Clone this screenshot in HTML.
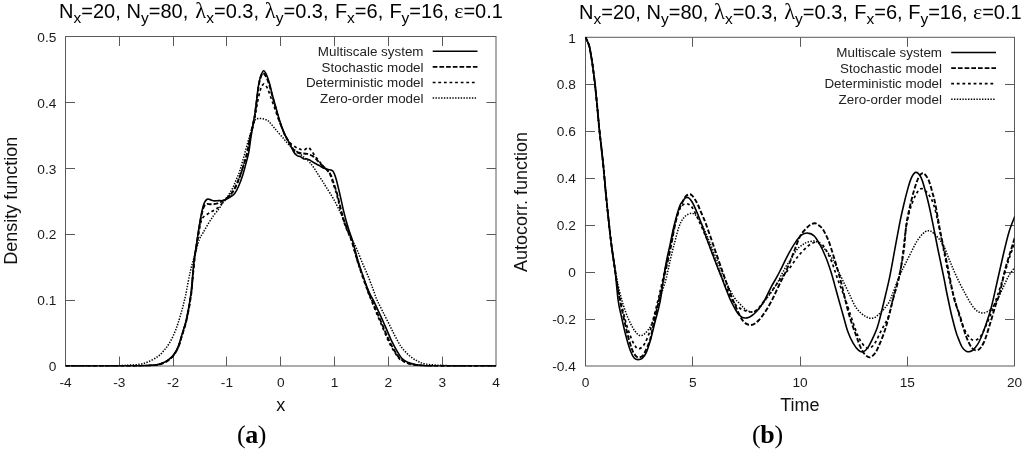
<!DOCTYPE html>
<html><head><meta charset="utf-8"><title>Density and autocorrelation</title><style>
html,body{margin:0;padding:0;background:#fff;}
body{width:1024px;height:450px;overflow:hidden;}
svg{display:block;will-change:transform;}
text{font-family:"Liberation Sans",sans-serif;fill:#000;}
.tk{font-size:13.7px;fill:#1a1a1a;}
.lg{font-size:13.4px;fill:#222;}
.lab{font-size:18px;fill:#111;}
.ttl{font-size:20px;fill:#000;}
.gr{font-family:"Liberation Serif",serif;}
.cap{font-family:"Liberation Serif",serif;font-size:26px;letter-spacing:-0.4px;}
</style></head>
<body>
<svg width="1024" height="450" viewBox="0 0 1024 450">
<rect x="65.5" y="36.5" width="430.50" height="329.50" fill="none" stroke="#5a5a5a" stroke-width="1"/>
<text x="65.50" y="387.0" text-anchor="middle" class="tk">-4</text>
<path d="M119.50,366.0 v-9.5 M119.50,36.5 v9.5" stroke="#5a5a5a" stroke-width="1"/>
<text x="119.31" y="387.0" text-anchor="middle" class="tk">-3</text>
<path d="M173.50,366.0 v-9.5 M173.50,36.5 v9.5" stroke="#5a5a5a" stroke-width="1"/>
<text x="173.12" y="387.0" text-anchor="middle" class="tk">-2</text>
<path d="M226.50,366.0 v-9.5 M226.50,36.5 v9.5" stroke="#5a5a5a" stroke-width="1"/>
<text x="226.94" y="387.0" text-anchor="middle" class="tk">-1</text>
<path d="M280.50,366.0 v-9.5 M280.50,36.5 v9.5" stroke="#5a5a5a" stroke-width="1"/>
<text x="280.75" y="387.0" text-anchor="middle" class="tk">0</text>
<path d="M334.50,366.0 v-9.5 M334.50,36.5 v9.5" stroke="#5a5a5a" stroke-width="1"/>
<text x="334.56" y="387.0" text-anchor="middle" class="tk">1</text>
<path d="M388.50,366.0 v-9.5 M388.50,36.5 v9.5" stroke="#5a5a5a" stroke-width="1"/>
<text x="388.38" y="387.0" text-anchor="middle" class="tk">2</text>
<path d="M442.50,366.0 v-9.5 M442.50,36.5 v9.5" stroke="#5a5a5a" stroke-width="1"/>
<text x="442.19" y="387.0" text-anchor="middle" class="tk">3</text>
<text x="496.00" y="387.0" text-anchor="middle" class="tk">4</text>
<text x="56.3" y="371.20" text-anchor="end" class="tk">0</text>
<path d="M65.5,300.50 h9.5 M496.0,300.50 h-9.5" stroke="#5a5a5a" stroke-width="1"/>
<text x="56.3" y="305.30" text-anchor="end" class="tk">0.1</text>
<path d="M65.5,234.50 h9.5 M496.0,234.50 h-9.5" stroke="#5a5a5a" stroke-width="1"/>
<text x="56.3" y="239.40" text-anchor="end" class="tk">0.2</text>
<path d="M65.5,168.50 h9.5 M496.0,168.50 h-9.5" stroke="#5a5a5a" stroke-width="1"/>
<text x="56.3" y="173.50" text-anchor="end" class="tk">0.3</text>
<path d="M65.5,102.50 h9.5 M496.0,102.50 h-9.5" stroke="#5a5a5a" stroke-width="1"/>
<text x="56.3" y="107.60" text-anchor="end" class="tk">0.4</text>
<text x="56.3" y="41.70" text-anchor="end" class="tk">0.5</text>
<rect x="585.5" y="37.3" width="429.00" height="328.70" fill="none" stroke="#5a5a5a" stroke-width="1"/>
<text x="585.50" y="387.0" text-anchor="middle" class="tk">0</text>
<path d="M692.50,366.0 v-9.5 M692.50,37.3 v9.5" stroke="#5a5a5a" stroke-width="1"/>
<text x="692.75" y="387.0" text-anchor="middle" class="tk">5</text>
<path d="M800.50,366.0 v-9.5 M800.50,37.3 v9.5" stroke="#5a5a5a" stroke-width="1"/>
<text x="800.00" y="387.0" text-anchor="middle" class="tk">10</text>
<path d="M907.50,366.0 v-9.5 M907.50,37.3 v9.5" stroke="#5a5a5a" stroke-width="1"/>
<text x="907.25" y="387.0" text-anchor="middle" class="tk">15</text>
<text x="1014.50" y="387.0" text-anchor="middle" class="tk">20</text>
<text x="575.8" y="371.20" text-anchor="end" class="tk">-0.4</text>
<path d="M585.5,319.50 h9.5 M1014.5,319.50 h-9.5" stroke="#5a5a5a" stroke-width="1"/>
<text x="575.8" y="324.24" text-anchor="end" class="tk">-0.2</text>
<path d="M585.5,272.50 h9.5 M1014.5,272.50 h-9.5" stroke="#5a5a5a" stroke-width="1"/>
<text x="575.8" y="277.29" text-anchor="end" class="tk">0</text>
<path d="M585.5,225.50 h9.5 M1014.5,225.50 h-9.5" stroke="#5a5a5a" stroke-width="1"/>
<text x="575.8" y="230.33" text-anchor="end" class="tk">0.2</text>
<path d="M585.5,178.50 h9.5 M1014.5,178.50 h-9.5" stroke="#5a5a5a" stroke-width="1"/>
<text x="575.8" y="183.37" text-anchor="end" class="tk">0.4</text>
<path d="M585.5,131.50 h9.5 M1014.5,131.50 h-9.5" stroke="#5a5a5a" stroke-width="1"/>
<text x="575.8" y="136.41" text-anchor="end" class="tk">0.6</text>
<path d="M585.5,84.50 h9.5 M1014.5,84.50 h-9.5" stroke="#5a5a5a" stroke-width="1"/>
<text x="575.8" y="89.46" text-anchor="end" class="tk">0.8</text>
<text x="575.8" y="42.50" text-anchor="end" class="tk">1</text>
<defs><clipPath id="c1"><rect x="65.5" y="31.5" width="430.5" height="335.1"/></clipPath><clipPath id="c2"><rect x="585.5" y="32.3" width="429.0" height="336.7"/></clipPath></defs>
<path d="M65.5,366.0 C72.1,366.0 95.9,366.0 105.0,365.9 C114.1,365.8 115.8,365.7 120.0,365.6 C124.2,365.5 126.7,365.3 130.0,365.1 C133.3,364.9 136.8,364.8 140.0,364.2 C143.2,363.6 145.9,362.8 148.9,361.5 C151.9,360.2 155.3,358.5 157.8,356.6 C160.3,354.8 162.1,352.6 164.0,350.4 C165.9,348.2 167.6,346.1 169.3,343.3 C171.0,340.5 172.8,336.9 174.2,333.6 C175.6,330.3 176.6,327.7 177.9,323.7 C179.2,319.7 180.8,314.2 182.1,309.5 C183.4,304.8 184.2,301.6 185.6,295.3 C186.9,289.1 188.6,279.0 190.2,272.0 C191.8,265.0 193.7,258.8 195.2,253.3 C196.7,247.9 198.1,242.8 199.4,239.3 C200.8,235.8 201.8,235.0 203.3,232.3 C204.9,229.6 206.9,225.9 208.7,223.0 C210.5,220.1 212.2,217.4 214.0,215.0 C215.8,212.6 217.9,210.3 219.3,208.3 C220.8,206.3 221.5,204.7 222.7,203.0 C223.9,201.3 225.8,199.2 226.7,198.0 C227.6,196.8 227.3,197.3 228.3,195.6 C229.3,193.9 231.5,190.4 232.8,187.8 C234.1,185.2 235.0,182.6 236.1,180.0 C237.2,177.4 238.5,174.8 239.4,172.2 C240.3,169.6 240.9,167.0 241.7,164.4 C242.4,161.8 243.2,159.3 243.9,156.7 C244.6,154.1 245.2,151.8 246.0,149.0 C246.8,146.2 247.6,142.9 248.5,140.0 C249.4,137.1 250.2,134.6 251.3,131.3 C252.4,128.1 253.8,122.6 254.9,120.5 C256.0,118.4 256.6,118.9 258.0,118.6 C259.4,118.3 261.4,118.5 263.0,118.8 C264.6,119.1 266.2,119.7 267.5,120.4 C268.8,121.2 269.4,122.1 270.5,123.3 C271.6,124.5 272.9,126.2 274.0,127.5 C275.1,128.8 275.6,129.4 277.2,131.3 C278.8,133.2 281.7,136.5 283.9,139.0 C286.1,141.5 288.0,144.1 290.6,146.5 C293.2,148.9 296.4,151.1 299.4,153.5 C302.3,155.9 306.0,158.8 308.3,161.0 C310.6,163.2 311.5,164.5 313.0,166.5 C314.5,168.5 315.8,170.8 317.2,173.0 C318.6,175.2 320.2,177.7 321.7,180.0 C323.2,182.3 324.0,183.6 326.1,187.0 C328.2,190.4 331.7,195.6 334.2,200.2 C336.7,204.8 339.2,210.0 341.3,214.4 C343.4,218.8 345.0,223.0 346.6,226.8 C348.2,230.7 349.5,233.9 351.1,237.5 C352.7,241.1 354.6,244.1 356.4,248.2 C358.2,252.3 360.1,257.4 362.0,262.0 C363.9,266.6 366.2,271.5 368.0,276.0 C369.8,280.5 371.5,285.0 373.0,289.0 C374.5,293.0 375.4,296.4 377.0,300.0 C378.6,303.6 380.4,307.0 382.4,310.9 C384.3,314.8 386.6,319.1 388.7,323.3 C390.8,327.5 392.8,331.9 394.9,335.8 C397.0,339.7 398.8,343.5 401.1,346.7 C403.4,349.9 406.3,352.9 408.9,355.2 C411.5,357.5 414.1,359.3 416.7,360.7 C419.3,362.1 421.3,363.1 424.4,363.8 C427.5,364.5 431.0,364.7 435.3,365.0 C439.6,365.3 444.2,365.5 450.0,365.7 C455.8,365.9 462.3,365.9 470.0,366.0 C477.7,366.1 491.7,366.0 496.0,366.0" fill="none" stroke="#000" stroke-width="1.5" stroke-dasharray="1.4 1.4" clip-path="url(#c1)"/>
<path d="M65.5,366.0 C74.6,366.0 107.6,366.0 120.0,366.0 C132.4,366.0 135.0,365.9 140.0,365.8 C145.0,365.7 147.0,365.6 150.0,365.4 C153.0,365.2 155.3,365.2 157.8,364.7 C160.3,364.2 162.8,363.2 164.9,362.2 C167.0,361.2 168.6,359.9 170.2,358.6 C171.8,357.3 172.8,356.3 174.2,354.3 C175.6,352.3 177.2,349.7 178.4,346.8 C179.6,343.9 180.6,339.9 181.5,337.0 C182.4,334.1 183.1,331.8 183.9,329.2 C184.7,326.6 185.5,324.0 186.2,321.4 C186.8,318.8 187.3,316.2 187.8,313.6 C188.3,311.0 188.9,308.4 189.3,305.8 C189.8,303.2 190.1,300.6 190.5,298.0 C190.9,295.4 191.0,296.3 191.6,290.3 C192.2,284.3 193.4,269.1 194.2,262.0 C195.0,254.9 195.6,252.2 196.3,248.0 C197.0,243.8 197.7,240.1 198.2,237.0 C198.7,233.9 198.7,232.7 199.3,229.7 C199.9,226.7 200.7,221.6 202.0,219.0 C203.3,216.4 205.5,215.6 207.3,214.3 C209.1,213.0 210.9,212.1 212.7,211.0 C214.5,209.9 216.4,208.9 218.0,207.7 C219.6,206.4 220.7,204.9 222.0,203.5 C223.3,202.1 224.7,200.3 226.0,199.0 C227.3,197.7 228.6,196.8 229.8,195.5 C231.0,194.2 232.2,192.9 233.4,191.0 C234.6,189.1 235.8,186.6 237.0,183.8 C238.2,181.0 239.6,177.7 240.8,174.2 C242.0,170.7 243.2,166.6 244.3,163.0 C245.4,159.4 246.3,157.1 247.3,152.8 C248.3,148.6 249.2,142.6 250.3,137.5 C251.4,132.4 253.1,126.4 254.0,122.0 C254.9,117.6 255.3,114.7 256.0,111.0 C256.7,107.3 257.3,103.5 258.0,100.0 C258.7,96.5 259.6,92.4 260.3,90.0 C261.0,87.6 261.6,86.5 262.3,85.5 C263.0,84.5 263.4,83.5 264.3,84.0 C265.2,84.5 266.7,86.7 267.7,88.7 C268.7,90.7 269.3,93.2 270.3,96.0 C271.3,98.8 272.6,102.1 273.7,105.3 C274.8,108.5 275.9,111.9 277.0,115.0 C278.1,118.1 279.2,120.8 280.5,124.0 C281.8,127.2 283.1,131.0 284.5,134.0 C285.9,137.0 287.2,139.9 289.0,142.0 C290.8,144.1 293.3,145.5 295.0,146.7 C296.7,147.8 297.9,148.3 299.4,148.9 C300.9,149.5 302.4,150.2 303.9,150.0 C305.4,149.8 307.0,147.4 308.3,147.6 C309.6,147.8 310.6,149.7 311.7,151.1 C312.8,152.5 313.9,154.6 315.0,156.1 C316.1,157.6 317.2,158.6 318.3,160.0 C319.4,161.4 320.6,163.1 321.7,164.4 C322.8,165.7 323.9,166.8 325.0,168.0 C326.1,169.2 327.1,170.0 328.0,171.3 C328.9,172.6 329.9,174.1 330.7,176.0 C331.5,177.9 332.0,180.1 333.0,183.0 C334.0,185.9 335.5,190.0 336.5,193.6 C337.5,197.2 338.2,200.7 339.1,204.3 C340.0,207.9 340.9,211.7 341.8,215.0 C342.7,218.3 343.6,221.1 344.6,224.0 C345.6,226.9 346.8,229.5 348.0,232.5 C349.2,235.5 350.5,237.3 352.0,242.0 C353.5,246.7 355.6,255.1 357.2,260.5 C358.8,265.9 360.0,269.3 361.8,274.5 C363.6,279.7 366.1,286.9 367.8,291.5 C369.5,296.1 370.6,298.4 372.0,302.0 C373.4,305.6 374.7,308.6 376.4,312.8 C378.1,317.0 380.4,322.3 382.4,327.0 C384.4,331.7 386.4,336.8 388.4,341.0 C390.4,345.2 392.6,349.0 394.5,352.0 C396.4,355.0 397.6,357.0 399.5,358.8 C401.4,360.6 403.6,361.6 406.0,362.6 C408.4,363.6 411.2,364.2 414.0,364.7 C416.8,365.2 419.4,365.4 422.9,365.6 C426.4,365.8 422.8,365.9 435.0,366.0 C447.2,366.1 485.8,366.0 496.0,366.0" fill="none" stroke="#000" stroke-width="1.7" stroke-dasharray="2.8 2.8" clip-path="url(#c1)"/>
<path d="M65.5,366.0 C74.6,366.0 107.6,366.0 120.0,366.0 C132.4,366.0 135.0,366.0 140.0,365.9 C145.0,365.8 147.0,365.7 150.0,365.5 C153.0,365.3 155.3,365.3 157.8,364.8 C160.3,364.3 162.8,363.4 164.9,362.4 C167.0,361.4 168.6,360.1 170.2,358.8 C171.8,357.5 172.8,356.5 174.2,354.5 C175.6,352.5 177.2,349.9 178.4,347.0 C179.6,344.1 180.6,340.1 181.5,337.2 C182.4,334.3 183.1,332.0 183.9,329.4 C184.7,326.8 185.5,324.2 186.2,321.6 C186.8,319.0 187.3,316.4 187.8,313.8 C188.3,311.2 188.9,308.6 189.3,306.0 C189.8,303.4 190.1,300.9 190.5,298.3 C190.9,295.7 191.0,296.6 191.6,290.5 C192.2,284.4 193.4,268.8 194.2,261.5 C195.0,254.2 195.6,251.1 196.3,246.5 C197.0,241.9 197.6,237.9 198.2,234.0 C198.8,230.1 199.4,226.5 200.0,223.0 C200.6,219.5 201.3,215.8 202.0,213.0 C202.7,210.2 203.2,208.0 204.0,206.5 C204.8,205.0 205.3,204.4 206.5,204.0 C207.7,203.6 209.6,204.4 211.3,204.3 C213.0,204.2 214.9,204.2 216.7,203.7 C218.5,203.2 220.4,202.3 222.0,201.5 C223.6,200.7 224.7,199.6 226.0,198.6 C227.3,197.6 228.6,196.6 229.8,195.3 C231.0,194.0 232.2,192.8 233.4,190.8 C234.6,188.8 235.8,186.3 237.0,183.5 C238.2,180.7 239.6,177.3 240.8,173.8 C242.0,170.3 243.2,166.1 244.3,162.5 C245.4,158.9 246.3,156.4 247.3,152.0 C248.3,147.6 249.2,141.4 250.3,136.0 C251.4,130.6 253.2,123.2 254.0,119.5 C254.8,115.8 254.6,117.1 255.0,114.0 C255.4,110.9 256.1,105.3 256.7,101.0 C257.2,96.7 257.7,91.8 258.3,88.0 C258.9,84.2 259.6,81.0 260.3,78.5 C261.1,76.0 261.9,73.3 262.8,73.0 C263.8,72.7 265.0,74.7 266.0,76.5 C267.0,78.3 268.0,81.0 269.0,84.0 C270.0,87.0 270.9,90.9 272.0,94.7 C273.1,98.5 274.1,102.4 275.3,106.7 C276.5,111.0 277.9,116.3 279.3,120.7 C280.8,125.1 282.7,129.9 284.0,133.0 C285.3,136.1 286.1,137.0 287.2,139.0 C288.3,141.0 289.5,143.1 290.6,145.0 C291.7,146.9 292.9,149.2 294.0,150.5 C295.1,151.8 296.2,152.0 297.5,152.5 C298.8,153.0 300.1,153.1 301.7,153.3 C303.3,153.5 305.3,153.4 307.2,153.9 C309.1,154.4 311.2,155.1 312.8,156.1 C314.4,157.1 315.8,158.8 317.0,160.0 C318.2,161.2 318.8,162.3 320.0,163.5 C321.2,164.7 322.6,165.8 324.0,167.0 C325.4,168.2 327.0,169.6 328.2,171.0 C329.4,172.4 330.1,173.6 331.0,175.5 C331.9,177.4 332.3,179.5 333.3,182.4 C334.3,185.3 335.9,189.6 336.9,193.1 C337.9,196.6 338.6,200.1 339.5,203.7 C340.4,207.2 341.3,211.1 342.2,214.4 C343.1,217.7 343.9,220.4 344.9,223.3 C345.9,226.2 347.0,229.0 348.2,232.0 C349.4,235.0 350.5,236.8 352.0,241.5 C353.5,246.2 355.7,254.8 357.4,260.2 C359.1,265.6 360.2,269.0 362.0,274.2 C363.8,279.4 366.4,286.7 368.2,291.3 C369.9,295.9 371.0,298.1 372.5,301.6 C374.0,305.1 375.2,308.3 377.0,312.4 C378.8,316.5 381.0,321.7 383.0,326.4 C385.0,331.1 387.0,336.2 389.0,340.4 C391.0,344.6 393.2,348.6 395.0,351.6 C396.8,354.6 398.1,356.7 400.0,358.5 C401.9,360.3 404.0,361.5 406.3,362.5 C408.6,363.5 411.2,364.1 414.0,364.6 C416.8,365.1 419.4,365.4 422.9,365.6 C426.4,365.8 422.8,365.9 435.0,366.0 C447.2,366.1 485.8,366.0 496.0,366.0" fill="none" stroke="#000" stroke-width="1.9" stroke-dasharray="4.7 2" clip-path="url(#c1)"/>
<path d="M65.5,366.0 C74.6,366.0 107.6,366.0 120.0,366.0 C132.4,366.0 135.0,366.0 140.0,365.9 C145.0,365.8 147.0,365.6 150.0,365.4 C153.0,365.2 155.3,365.2 157.8,364.6 C160.3,364.0 162.8,363.0 164.9,362.0 C167.0,361.0 168.6,359.7 170.2,358.4 C171.8,357.1 172.9,356.0 174.2,354.0 C175.5,352.0 177.0,349.4 178.2,346.5 C179.4,343.6 180.4,339.6 181.3,336.7 C182.2,333.8 182.9,331.5 183.7,328.9 C184.5,326.3 185.3,323.7 186.0,321.1 C186.7,318.5 187.1,315.9 187.6,313.3 C188.1,310.7 188.6,308.2 189.1,305.6 C189.6,303.0 189.9,300.4 190.3,297.8 C190.7,295.2 190.8,296.1 191.4,290.0 C192.0,283.9 193.2,268.5 194.0,261.1 C194.8,253.7 195.6,250.3 196.3,245.6 C197.0,240.9 197.6,237.0 198.2,233.0 C198.8,229.0 199.4,225.4 200.0,221.7 C200.6,218.0 201.3,214.0 202.0,211.0 C202.7,208.0 203.2,205.4 204.0,203.5 C204.8,201.6 205.8,200.2 206.7,199.5 C207.6,198.8 208.4,199.2 209.5,199.4 C210.6,199.6 211.8,200.6 213.3,200.8 C214.8,201.0 217.1,200.6 218.7,200.6 C220.3,200.6 221.4,200.8 222.7,200.6 C224.0,200.4 225.0,199.8 226.3,199.2 C227.6,198.6 229.1,197.8 230.5,196.8 C231.9,195.9 233.3,195.3 234.7,193.5 C236.1,191.7 237.4,189.0 238.7,186.0 C240.0,183.0 241.5,179.1 242.7,175.3 C243.9,171.5 245.0,167.1 246.0,163.3 C247.0,159.5 247.8,157.4 248.7,152.7 C249.6,148.0 250.4,140.5 251.3,134.9 C252.2,129.3 253.4,122.5 254.0,118.9 C254.6,115.3 254.6,116.5 255.0,113.3 C255.4,110.1 256.1,104.4 256.7,100.0 C257.2,95.6 257.7,90.5 258.3,86.7 C258.9,82.9 259.4,80.0 260.3,77.3 C261.2,74.6 262.6,70.9 263.7,70.7 C264.8,70.5 266.0,73.8 267.0,76.0 C268.0,78.2 268.8,80.9 269.7,84.0 C270.6,87.1 271.3,90.9 272.3,94.7 C273.3,98.5 274.5,102.4 275.7,106.7 C276.9,111.0 278.3,116.3 279.7,120.7 C281.1,125.1 282.9,130.1 284.2,133.1 C285.4,136.1 286.1,136.8 287.2,138.9 C288.3,141.0 289.5,143.4 290.6,145.6 C291.7,147.8 292.8,150.5 293.9,152.2 C295.0,153.9 296.1,154.8 297.2,155.6 C298.3,156.3 299.5,156.1 300.6,156.7 C301.7,157.2 302.8,158.5 303.9,158.9 C305.0,159.3 306.1,158.6 307.2,158.9 C308.3,159.2 309.3,159.9 310.6,160.6 C311.9,161.3 313.5,162.5 315.0,163.3 C316.5,164.1 317.9,164.8 319.4,165.6 C320.9,166.4 322.4,167.7 323.9,168.3 C325.4,168.9 326.8,168.9 328.3,169.4 C329.8,169.9 331.5,169.5 332.8,171.1 C334.1,172.7 334.8,174.7 336.1,178.9 C337.4,183.2 339.1,191.0 340.4,196.6 C341.7,202.2 342.7,207.3 344.0,212.6 C345.3,217.9 347.0,224.0 348.4,228.6 C349.8,233.2 350.7,234.7 352.3,240.0 C353.9,245.3 356.1,254.5 357.8,260.2 C359.5,265.9 360.6,269.0 362.4,274.2 C364.2,279.4 366.8,286.7 368.7,291.3 C370.6,295.9 372.3,298.1 374.0,301.6 C375.7,305.1 377.1,308.3 379.0,312.4 C380.9,316.5 383.2,321.7 385.3,326.4 C387.4,331.1 389.3,336.2 391.3,340.4 C393.3,344.5 395.4,348.3 397.2,351.3 C398.9,354.3 400.1,356.5 401.8,358.3 C403.5,360.1 405.4,361.2 407.6,362.2 C409.8,363.2 412.6,363.9 415.1,364.5 C417.7,365.1 419.6,365.2 422.9,365.5 C426.2,365.8 422.8,365.9 435.0,366.0 C447.2,366.1 485.8,366.0 496.0,366.0" fill="none" stroke="#000" stroke-width="1.6" clip-path="url(#c1)"/>
<path d="M585.5,37.3 C585.8,38.0 586.8,39.9 587.5,41.5 C588.2,43.1 588.9,44.4 589.5,47.0 C590.1,49.6 590.7,53.5 591.3,57.0 C591.9,60.5 592.4,63.4 593.0,68.3 C593.6,73.1 594.5,79.4 595.2,86.1 C595.9,92.8 596.6,100.5 597.4,108.3 C598.1,116.1 598.7,123.3 599.7,132.8 C600.7,142.3 602.2,154.1 603.3,165.3 C604.4,176.5 605.2,187.6 606.5,200.0 C607.8,212.4 609.4,228.7 610.8,240.0 C612.2,251.3 613.7,260.2 615.0,268.0 C616.3,275.8 617.2,281.0 618.5,287.0 C619.8,293.0 621.4,298.8 623.0,304.0 C624.6,309.2 626.3,314.0 628.0,318.0 C629.7,322.0 631.5,325.4 633.0,328.0 C634.5,330.6 635.7,332.2 637.0,333.5 C638.3,334.8 639.3,335.6 640.6,335.6 C641.9,335.6 643.3,335.1 645.0,333.5 C646.7,331.9 649.0,329.1 650.7,326.0 C652.4,322.9 653.5,319.7 655.0,315.0 C656.5,310.3 658.2,303.8 660.0,298.0 C661.8,292.2 664.1,286.3 665.8,280.0 C667.5,273.7 668.7,266.6 670.2,260.4 C671.7,254.2 673.1,248.2 674.6,242.6 C676.1,237.0 677.5,230.9 679.1,226.6 C680.7,222.3 682.3,219.1 684.4,216.9 C686.5,214.7 689.4,213.5 691.5,213.3 C693.6,213.2 695.4,214.7 696.8,216.0 C698.2,217.3 698.8,218.8 700.0,221.0 C701.2,223.2 702.3,225.3 704.0,229.0 C705.7,232.7 707.7,237.3 710.0,243.0 C712.3,248.7 715.3,256.5 718.0,263.0 C720.7,269.5 723.3,276.3 726.0,282.0 C728.7,287.7 731.7,293.3 734.0,297.0 C736.3,300.7 738.2,302.0 740.0,304.0 C741.8,306.0 743.2,307.7 745.0,309.0 C746.8,310.3 748.9,311.8 750.9,312.0 C752.9,312.2 755.0,312.0 757.1,310.5 C759.2,309.0 761.0,306.0 763.3,303.0 C765.6,300.0 768.8,295.8 771.1,292.5 C773.4,289.2 775.2,286.5 777.0,283.5 C778.8,280.5 780.1,277.3 781.6,274.5 C783.1,271.7 784.5,269.0 786.0,266.5 C787.5,264.0 789.1,261.8 790.5,259.5 C791.9,257.2 793.2,254.9 794.5,253.0 C795.8,251.1 797.1,249.2 798.5,247.8 C799.9,246.4 801.6,245.4 803.0,244.5 C804.4,243.6 805.1,242.9 807.0,242.3 C808.9,241.7 812.1,240.9 814.1,241.1 C816.1,241.3 817.2,242.2 819.0,243.5 C820.8,244.8 822.6,246.7 824.7,249.1 C826.8,251.5 829.8,254.8 831.8,258.0 C833.8,261.1 835.2,264.3 837.0,268.0 C838.8,271.7 840.6,275.8 842.6,280.0 C844.6,284.2 846.5,288.3 848.8,293.0 C851.1,297.7 853.8,304.5 856.6,308.4 C859.4,312.3 862.8,314.8 865.5,316.4 C868.2,318.0 870.5,318.4 872.6,318.2 C874.7,318.0 876.2,316.4 878.0,315.0 C879.8,313.6 881.7,311.6 883.5,309.5 C885.3,307.4 887.4,305.0 888.9,302.5 C890.4,300.0 891.1,297.6 892.4,294.3 C893.7,291.1 895.4,286.2 896.7,283.0 C898.0,279.8 899.0,277.2 900.0,275.0 C901.0,272.8 901.6,271.4 902.5,269.5 C903.4,267.6 904.5,265.4 905.6,263.3 C906.7,261.2 907.6,259.2 908.9,256.7 C910.2,254.1 911.9,250.7 913.3,248.0 C914.7,245.3 915.7,243.1 917.2,240.8 C918.8,238.5 920.8,235.7 922.6,234.0 C924.4,232.3 926.1,230.8 928.0,230.7 C929.9,230.6 931.4,231.2 933.9,233.5 C936.4,235.8 940.2,240.0 942.8,244.4 C945.4,248.8 947.2,254.8 949.4,260.0 C951.6,265.2 953.5,270.1 956.1,275.6 C958.7,281.2 962.0,287.9 965.0,293.3 C968.0,298.7 971.2,304.7 974.0,308.0 C976.8,311.3 979.3,312.7 982.0,313.0 C984.7,313.3 987.7,311.8 990.0,310.0 C992.3,308.2 994.2,305.0 996.0,302.0 C997.8,299.0 999.5,295.1 1001.0,292.0 C1002.5,288.9 1003.7,286.2 1005.0,283.5 C1006.3,280.8 1007.3,278.2 1009.0,275.5 C1010.7,272.8 1014.0,268.4 1015.0,267.0" fill="none" stroke="#000" stroke-width="1.5" stroke-dasharray="1.4 1.4" clip-path="url(#c2)"/>
<path d="M585.5,37.3 C585.8,38.0 586.8,39.9 587.5,41.5 C588.2,43.1 588.9,44.4 589.5,47.0 C590.1,49.6 590.7,53.5 591.3,57.0 C591.9,60.5 592.4,63.4 593.0,68.3 C593.6,73.1 594.5,79.4 595.2,86.1 C595.9,92.8 596.6,100.5 597.4,108.3 C598.1,116.1 598.7,123.3 599.7,132.8 C600.7,142.3 602.2,154.1 603.3,165.3 C604.4,176.5 605.2,187.6 606.5,200.0 C607.8,212.4 609.4,228.3 610.8,240.0 C612.2,251.7 613.7,261.5 615.0,270.0 C616.3,278.5 617.2,284.2 618.5,291.0 C619.8,297.8 621.5,304.8 623.0,311.0 C624.5,317.2 626.0,323.2 627.5,328.0 C629.0,332.8 630.7,336.9 632.0,340.0 C633.3,343.1 634.5,345.0 635.5,346.5 C636.5,348.0 637.3,348.7 638.3,348.9 C639.3,349.1 640.4,348.5 641.5,347.5 C642.6,346.5 643.6,345.8 645.0,343.0 C646.4,340.2 648.5,335.5 650.0,331.0 C651.5,326.5 652.5,321.8 654.0,316.0 C655.5,310.2 657.3,303.2 659.0,296.0 C660.7,288.8 662.5,280.7 664.3,273.0 C666.1,265.3 668.0,257.5 669.6,250.0 C671.2,242.5 672.6,234.2 674.0,228.0 C675.4,221.8 676.8,216.6 678.0,213.0 C679.2,209.4 680.3,208.1 681.5,206.5 C682.7,204.9 684.0,204.0 685.3,203.7 C686.5,203.4 687.8,203.8 689.0,204.5 C690.2,205.2 691.1,205.8 692.5,208.0 C693.9,210.2 695.8,214.3 697.5,218.0 C699.2,221.7 701.2,225.8 703.0,230.0 C704.8,234.2 706.2,237.3 708.5,243.0 C710.8,248.7 713.8,257.0 716.5,264.0 C719.2,271.0 722.2,278.8 725.0,285.0 C727.8,291.2 730.6,297.7 733.0,301.5 C735.4,305.3 737.5,306.5 739.5,308.0 C741.5,309.5 742.8,309.8 744.7,310.5 C746.6,311.2 748.8,312.1 750.9,312.0 C753.0,311.9 755.0,311.4 757.1,309.7 C759.2,308.0 761.0,304.9 763.3,301.9 C765.6,298.9 768.5,295.3 771.1,291.8 C773.7,288.3 777.1,283.4 778.9,280.9 C780.7,278.4 780.4,279.1 782.1,277.0 C783.8,274.9 786.5,272.1 789.2,268.6 C791.9,265.1 794.9,260.1 798.1,256.2 C801.4,252.3 805.6,247.9 808.7,245.5 C811.8,243.1 814.5,242.2 816.7,242.0 C818.9,241.8 820.5,243.2 822.0,244.5 C823.5,245.8 824.4,247.1 826.0,250.0 C827.6,252.9 829.8,257.0 831.8,262.0 C833.8,267.0 835.6,273.4 838.0,280.0 C840.4,286.6 843.2,293.3 846.0,301.3 C848.8,309.3 852.6,321.6 854.9,328.0 C857.2,334.4 858.2,336.8 860.0,340.0 C861.8,343.2 863.8,345.7 865.5,347.0 C867.2,348.3 868.4,348.7 870.0,348.0 C871.6,347.3 873.3,345.5 875.0,343.0 C876.7,340.5 878.4,336.2 880.0,333.0 C881.6,329.8 883.3,326.9 884.8,324.0 C886.3,321.1 887.4,320.0 888.8,315.6 C890.2,311.2 891.6,304.1 893.2,297.8 C894.9,291.5 897.3,283.8 898.7,277.8 C900.1,271.8 900.8,268.8 901.8,262.0 C902.8,255.2 903.9,243.6 904.8,237.0 C905.7,230.4 906.0,227.0 907.0,222.2 C908.0,217.4 909.0,212.6 910.5,208.0 C912.0,203.4 914.1,197.7 915.9,194.5 C917.7,191.3 919.4,188.7 921.5,188.6 C923.6,188.5 926.3,191.4 928.3,194.0 C930.3,196.6 932.0,199.7 933.6,204.4 C935.2,209.1 936.6,215.7 938.0,222.0 C939.4,228.3 940.7,235.3 942.0,242.0 C943.3,248.7 944.7,255.3 946.0,262.0 C947.3,268.7 948.5,275.7 950.0,282.0 C951.5,288.3 953.0,293.0 955.0,300.0 C957.0,307.0 959.5,317.7 962.0,324.0 C964.5,330.3 967.7,335.3 970.0,338.0 C972.3,340.7 974.0,340.7 976.0,340.0 C978.0,339.3 979.7,338.0 982.0,334.0 C984.3,330.0 987.3,322.7 990.0,316.0 C992.7,309.3 995.5,301.3 998.0,294.0 C1000.5,286.7 1003.0,278.3 1005.0,272.0 C1007.0,265.7 1008.3,261.0 1010.0,256.0 C1011.7,251.0 1014.2,244.3 1015.0,242.0" fill="none" stroke="#000" stroke-width="1.7" stroke-dasharray="2.8 2.8" clip-path="url(#c2)"/>
<path d="M585.5,37.3 C585.8,38.0 586.8,39.9 587.5,41.5 C588.2,43.1 588.9,44.4 589.5,47.0 C590.1,49.6 590.7,53.5 591.3,57.0 C591.9,60.5 592.4,63.4 593.0,68.3 C593.6,73.1 594.5,79.4 595.2,86.1 C595.9,92.8 596.6,100.5 597.4,108.3 C598.1,116.1 598.7,123.3 599.7,132.8 C600.7,142.3 602.2,154.1 603.3,165.3 C604.4,176.5 605.2,187.6 606.5,200.0 C607.8,212.4 609.4,228.3 610.8,240.0 C612.2,251.7 613.8,261.3 615.0,270.0 C616.2,278.7 617.0,284.8 618.3,292.0 C619.6,299.2 621.3,306.7 622.8,313.5 C624.3,320.3 625.7,327.2 627.2,333.0 C628.7,338.8 630.4,344.8 631.7,348.5 C633.0,352.2 633.9,353.5 635.0,355.0 C636.1,356.5 637.2,357.2 638.3,357.5 C639.4,357.8 640.5,357.2 641.5,356.5 C642.5,355.8 643.1,355.8 644.5,353.0 C645.9,350.2 648.4,345.2 650.0,340.0 C651.6,334.8 652.4,329.0 654.0,322.0 C655.6,315.0 657.6,306.0 659.4,298.0 C661.2,290.0 663.0,282.0 664.8,274.0 C666.6,266.0 668.5,258.0 670.2,250.0 C671.9,242.0 673.4,232.4 674.8,226.0 C676.2,219.6 677.3,215.3 678.5,211.5 C679.7,207.7 680.8,205.5 682.0,203.0 C683.2,200.5 684.4,197.9 685.5,196.5 C686.6,195.1 687.9,194.7 688.9,194.4 C689.9,194.2 690.5,194.2 691.5,195.0 C692.5,195.8 693.7,197.4 694.7,199.0 C695.8,200.6 696.8,202.5 697.8,204.5 C698.8,206.5 699.5,208.7 700.4,210.8 C701.3,212.9 702.2,214.9 703.1,217.0 C704.0,219.1 704.6,220.4 705.8,223.5 C706.9,226.6 708.5,231.3 710.0,235.5 C711.5,239.7 713.0,244.2 714.5,248.5 C716.0,252.8 717.7,257.7 719.0,261.5 C720.3,265.3 721.3,268.2 722.5,271.5 C723.7,274.8 724.8,278.0 726.0,281.5 C727.2,285.0 728.7,289.0 730.0,292.5 C731.3,296.0 732.8,299.7 734.0,302.5 C735.2,305.3 736.0,307.2 737.0,309.5 C738.0,311.8 739.0,314.1 740.0,316.0 C741.0,317.9 741.8,319.4 743.0,320.8 C744.2,322.2 745.7,323.5 747.0,324.2 C748.3,324.9 749.7,325.1 751.0,325.0 C752.3,324.9 753.7,324.3 755.0,323.5 C756.3,322.7 757.7,321.4 759.0,320.0 C760.3,318.6 761.7,316.8 763.0,315.0 C764.3,313.2 765.7,311.2 767.0,309.0 C768.3,306.8 769.8,304.2 771.0,302.0 C772.2,299.8 772.4,299.3 774.0,296.0 C775.6,292.7 778.5,286.2 780.4,282.4 C782.2,278.6 783.5,276.5 785.1,273.1 C786.7,269.7 788.4,266.0 790.0,262.0 C791.6,258.0 793.4,253.2 795.0,249.0 C796.6,244.8 798.2,239.8 799.9,236.6 C801.6,233.3 803.5,231.4 805.2,229.5 C806.9,227.6 808.4,226.0 810.0,225.0 C811.6,224.0 813.5,223.2 815.0,223.3 C816.5,223.4 817.7,224.5 819.0,225.5 C820.3,226.5 821.5,227.1 823.0,229.5 C824.5,231.9 826.5,235.8 828.3,240.2 C830.1,244.6 832.0,251.1 833.6,256.2 C835.2,261.3 836.6,266.0 838.0,271.0 C839.4,276.0 840.4,279.5 842.0,286.0 C843.6,292.5 846.1,303.7 847.8,310.0 C849.5,316.3 850.5,319.5 852.0,324.0 C853.5,328.5 855.3,333.1 856.6,336.8 C857.9,340.5 858.8,343.2 860.0,346.0 C861.2,348.8 862.4,351.4 864.0,353.3 C865.6,355.2 867.6,357.4 869.4,357.4 C871.2,357.4 873.3,355.6 875.0,353.3 C876.7,351.1 878.0,347.8 879.7,343.9 C881.4,340.0 883.5,334.7 885.0,330.0 C886.5,325.3 887.6,321.0 889.0,315.6 C890.4,310.2 891.8,304.1 893.4,297.8 C895.0,291.5 897.2,285.8 898.9,277.8 C900.6,269.8 902.6,258.8 903.8,250.0 C905.0,241.2 905.3,232.0 906.3,225.0 C907.3,218.0 908.3,213.8 909.6,208.0 C910.9,202.2 912.6,195.2 914.1,190.2 C915.6,185.2 917.0,180.6 918.5,177.8 C920.0,175.0 921.4,173.0 923.0,173.3 C924.6,173.6 926.7,176.1 928.3,179.5 C929.9,182.9 931.5,189.5 932.7,193.7 C933.9,197.8 934.1,197.8 935.4,204.4 C936.7,211.0 938.6,223.3 940.6,233.3 C942.6,243.3 945.0,253.6 947.2,264.4 C949.4,275.1 951.8,289.2 953.9,297.8 C956.0,306.4 958.0,309.6 960.0,316.0 C962.0,322.4 964.0,330.7 966.0,336.0 C968.0,341.3 970.0,345.7 972.0,348.0 C974.0,350.3 976.0,351.0 978.0,350.0 C980.0,349.0 982.0,346.3 984.0,342.0 C986.0,337.7 988.0,330.3 990.0,324.0 C992.0,317.7 994.3,309.3 996.0,304.0 C997.7,298.7 998.5,297.7 1000.0,292.0 C1001.5,286.3 1003.2,277.0 1005.0,270.0 C1006.8,263.0 1009.3,255.5 1011.0,250.0 C1012.7,244.5 1014.3,239.2 1015.0,237.0" fill="none" stroke="#000" stroke-width="1.9" stroke-dasharray="4.7 2" clip-path="url(#c2)"/>
<path d="M585.5,37.3 C585.8,38.0 586.8,39.9 587.5,41.5 C588.2,43.1 588.9,44.4 589.5,47.0 C590.1,49.6 590.7,53.5 591.3,57.0 C591.9,60.5 592.4,63.4 593.0,68.3 C593.6,73.1 594.5,79.4 595.2,86.1 C595.9,92.8 596.6,100.5 597.4,108.3 C598.1,116.1 598.7,123.3 599.7,132.8 C600.7,142.3 602.2,154.1 603.3,165.3 C604.4,176.5 605.2,187.6 606.5,200.0 C607.8,212.4 609.4,228.3 610.8,240.0 C612.2,251.7 613.8,260.0 615.0,270.0 C616.2,280.0 617.1,292.4 618.1,300.0 C619.1,307.6 619.9,309.6 621.2,315.6 C622.5,321.6 624.3,329.9 625.9,335.8 C627.5,341.8 629.2,347.6 630.6,351.3 C632.0,355.1 633.1,356.9 634.4,358.3 C635.7,359.7 637.0,359.6 638.3,359.6 C639.6,359.6 640.9,359.4 642.2,358.3 C643.5,357.2 644.7,356.1 646.1,352.9 C647.5,349.7 649.2,344.3 650.8,338.9 C652.3,333.4 653.8,326.4 655.4,320.2 C657.0,314.0 658.7,309.1 660.1,301.6 C661.5,294.1 662.9,282.5 664.0,275.3 C665.1,268.1 666.0,263.6 667.0,258.5 C668.0,253.4 669.0,249.9 670.0,245.0 C671.0,240.1 672.2,233.9 673.3,229.0 C674.4,224.1 675.6,219.6 676.7,215.7 C677.8,211.8 679.0,207.7 680.0,205.3 C681.0,202.9 682.0,202.4 682.7,201.3 C683.5,200.2 683.9,199.5 684.5,198.8 C685.1,198.2 685.8,197.5 686.5,197.4 C687.2,197.3 687.9,197.2 688.9,198.0 C689.9,198.8 691.4,200.8 692.4,202.5 C693.4,204.2 694.2,206.1 695.1,208.1 C696.0,210.1 696.9,212.2 697.8,214.3 C698.6,216.4 699.3,218.2 700.2,220.5 C701.1,222.8 702.0,225.1 703.0,228.0 C704.0,230.9 705.3,234.8 706.5,238.0 C707.7,241.2 708.8,244.2 710.0,247.5 C711.2,250.8 712.7,254.5 714.0,258.0 C715.3,261.5 716.7,265.2 718.0,268.5 C719.3,271.8 720.6,274.7 721.7,277.5 C722.8,280.3 723.7,283.0 724.6,285.5 C725.5,288.0 726.5,290.2 727.4,292.5 C728.3,294.8 729.1,296.9 730.0,299.0 C730.9,301.1 732.0,303.1 733.0,305.0 C734.0,306.9 735.0,308.9 736.0,310.5 C737.0,312.1 738.0,313.7 739.0,314.8 C740.0,315.9 741.0,316.7 742.0,317.2 C743.0,317.7 743.9,317.9 745.0,318.0 C746.1,318.1 747.3,317.9 748.5,317.5 C749.7,317.1 750.8,316.4 752.0,315.5 C753.2,314.6 754.7,313.4 756.0,312.0 C757.3,310.6 758.5,309.3 760.0,307.2 C761.5,305.1 763.1,302.9 765.0,299.5 C766.9,296.1 769.1,291.0 771.1,287.1 C773.1,283.2 775.5,279.6 777.3,276.2 C779.1,272.8 780.1,270.7 782.1,266.8 C784.1,262.9 786.8,256.9 789.2,252.6 C791.6,248.3 794.2,244.0 796.3,241.1 C798.4,238.2 799.7,236.2 801.6,234.9 C803.5,233.6 805.8,232.9 807.9,233.1 C810.0,233.2 812.2,234.0 814.1,235.8 C816.0,237.6 817.5,240.3 819.4,243.7 C821.3,247.1 823.4,251.4 825.4,256.2 C827.4,260.9 829.6,267.5 831.1,272.2 C832.6,276.9 833.4,280.3 834.6,284.6 C835.8,288.9 836.8,292.7 838.2,297.8 C839.6,302.9 841.6,309.9 843.2,315.5 C844.8,321.1 846.1,326.9 847.8,331.5 C849.4,336.1 851.3,340.0 853.1,343.1 C854.9,346.2 856.8,348.7 858.4,350.2 C860.0,351.7 861.4,352.2 862.9,351.9 C864.4,351.6 865.7,350.6 867.3,348.4 C868.9,346.2 871.0,342.0 872.6,338.6 C874.2,335.2 875.9,331.5 877.1,328.0 C878.3,324.5 878.9,322.1 880.0,317.8 C881.1,313.5 882.2,308.9 883.8,302.2 C885.4,295.5 887.6,286.7 889.5,277.8 C891.4,268.9 893.2,258.2 894.9,248.9 C896.6,239.6 898.5,229.3 899.9,222.2 C901.3,215.1 902.1,211.8 903.4,206.2 C904.7,200.6 906.6,193.1 907.9,188.4 C909.2,183.7 910.1,180.5 911.4,177.8 C912.7,175.1 914.3,172.4 915.9,172.4 C917.5,172.4 919.6,174.5 921.2,177.8 C922.8,181.1 924.3,187.3 925.6,192.0 C926.9,196.7 927.8,200.0 929.2,206.2 C930.6,212.3 932.4,221.4 933.9,228.9 C935.4,236.4 936.6,242.9 938.3,251.1 C940.0,259.2 942.6,271.5 943.9,277.8 C945.2,284.1 945.3,285.3 946.0,289.0 C946.7,292.7 947.5,296.4 948.3,300.0 C949.0,303.6 949.8,307.2 950.5,310.5 C951.2,313.8 952.0,317.0 952.8,320.0 C953.5,323.0 954.3,325.9 955.0,328.5 C955.7,331.1 956.5,333.4 957.2,335.6 C958.0,337.8 958.8,339.7 959.5,341.5 C960.2,343.3 961.0,345.0 961.7,346.3 C962.5,347.6 963.2,348.7 964.0,349.5 C964.8,350.3 965.5,350.8 966.3,351.2 C967.1,351.6 967.9,351.8 968.6,351.8 C969.4,351.8 970.1,351.6 970.8,351.3 C971.5,351.0 972.2,350.6 973.0,350.0 C973.8,349.4 974.3,348.8 975.3,347.5 C976.3,346.2 977.5,344.9 979.0,342.0 C980.5,339.1 982.2,335.0 984.0,330.0 C985.8,325.0 988.3,317.7 990.0,312.0 C991.7,306.3 992.7,301.7 994.0,296.0 C995.3,290.3 996.5,284.7 998.0,278.0 C999.5,271.3 1001.2,263.7 1003.0,256.0 C1004.8,248.3 1007.0,238.7 1009.0,232.0 C1011.0,225.3 1014.0,218.7 1015.0,216.0" fill="none" stroke="#000" stroke-width="1.6" clip-path="url(#c2)"/>
<text x="423.5" y="55.90" text-anchor="end" class="lg">Multiscale system</text>
<path d="M432.7,51.30 H477.50" fill="none" stroke="#000" stroke-width="1.6"/>
<text x="423.5" y="71.50" text-anchor="end" class="lg">Stochastic model</text>
<path d="M432.7,66.90 H477.50" fill="none" stroke="#000" stroke-width="1.9" stroke-dasharray="4.7 2"/>
<text x="423.5" y="87.10" text-anchor="end" class="lg">Deterministic model</text>
<path d="M432.7,82.50 H475.00" fill="none" stroke="#000" stroke-width="1.7" stroke-dasharray="2.8 2.8"/>
<text x="423.5" y="102.70" text-anchor="end" class="lg">Zero-order model</text>
<path d="M432.7,98.10 H477.50" fill="none" stroke="#000" stroke-width="1.5" stroke-dasharray="1.4 1.4"/>
<text x="942.0" y="57.10" text-anchor="end" class="lg">Multiscale system</text>
<path d="M951.2,52.50 H996.00" fill="none" stroke="#000" stroke-width="1.6"/>
<text x="942.0" y="72.70" text-anchor="end" class="lg">Stochastic model</text>
<path d="M951.2,68.10 H996.00" fill="none" stroke="#000" stroke-width="1.9" stroke-dasharray="4.7 2"/>
<text x="942.0" y="88.30" text-anchor="end" class="lg">Deterministic model</text>
<path d="M951.2,83.70 H993.50" fill="none" stroke="#000" stroke-width="1.7" stroke-dasharray="2.8 2.8"/>
<text x="942.0" y="103.90" text-anchor="end" class="lg">Zero-order model</text>
<path d="M951.2,99.30 H996.00" fill="none" stroke="#000" stroke-width="1.5" stroke-dasharray="1.4 1.4"/>
<text x="280.7" y="411" text-anchor="middle" class="lab">x</text>
<text x="799.8" y="411" text-anchor="middle" class="lab">Time</text>
<text transform="translate(17.2,200.75) rotate(-90)" text-anchor="middle" class="lab">Density function</text>
<text transform="translate(527.1,202) rotate(-90)" text-anchor="middle" class="lab">Autocorr. function</text>
<text x="59.0" y="17.6" class="ttl">N<tspan font-size="15.5" dy="5.4">x</tspan><tspan dy="-5.4">=20,</tspan></text>
<text x="126.6" y="17.6" class="ttl">N<tspan font-size="15.5" dy="5.4">y</tspan><tspan dy="-5.4">=80,</tspan></text>
<text x="195.3" y="17.6" class="ttl"><tspan class="gr" font-size="22.5">λ</tspan><tspan font-size="15.5" dy="5.4">x</tspan><tspan dy="-5.4">=0.3,</tspan></text>
<text x="264.8" y="17.6" class="ttl"><tspan class="gr" font-size="22.5">λ</tspan><tspan font-size="15.5" dy="5.4">y</tspan><tspan dy="-5.4">=0.3,</tspan></text>
<text x="334.9" y="17.6" class="ttl">F<tspan font-size="15.5" dy="5.4">x</tspan><tspan dy="-5.4">=6,</tspan></text>
<text x="389.4" y="17.6" class="ttl">F<tspan font-size="15.5" dy="5.4">y</tspan><tspan dy="-5.4">=16,</tspan></text>
<text x="454.2" y="17.6" class="ttl"><tspan class="gr" font-size="22">ε</tspan>=0.1</text>
<text x="579.0" y="18.8" class="ttl">N<tspan font-size="15.5" dy="5.4">x</tspan><tspan dy="-5.4">=20,</tspan></text>
<text x="646.6" y="18.8" class="ttl">N<tspan font-size="15.5" dy="5.4">y</tspan><tspan dy="-5.4">=80,</tspan></text>
<text x="714.1" y="18.8" class="ttl"><tspan class="gr" font-size="22.5">λ</tspan><tspan font-size="15.5" dy="5.4">x</tspan><tspan dy="-5.4">=0.3,</tspan></text>
<text x="784.2" y="18.8" class="ttl"><tspan class="gr" font-size="22.5">λ</tspan><tspan font-size="15.5" dy="5.4">y</tspan><tspan dy="-5.4">=0.3,</tspan></text>
<text x="854.3" y="18.8" class="ttl">F<tspan font-size="15.5" dy="5.4">x</tspan><tspan dy="-5.4">=6,</tspan></text>
<text x="908.2" y="18.8" class="ttl">F<tspan font-size="15.5" dy="5.4">y</tspan><tspan dy="-5.4">=16,</tspan></text>
<text x="972.9" y="18.8" class="ttl"><tspan class="gr" font-size="22">ε</tspan>=0.1</text>
<text x="251.5" y="442.8" text-anchor="middle" class="cap">(<tspan font-weight="bold">a</tspan>)</text>
<text x="767.4" y="442.8" text-anchor="middle" class="cap">(<tspan font-weight="bold">b</tspan>)</text>
</svg>
</body></html>
